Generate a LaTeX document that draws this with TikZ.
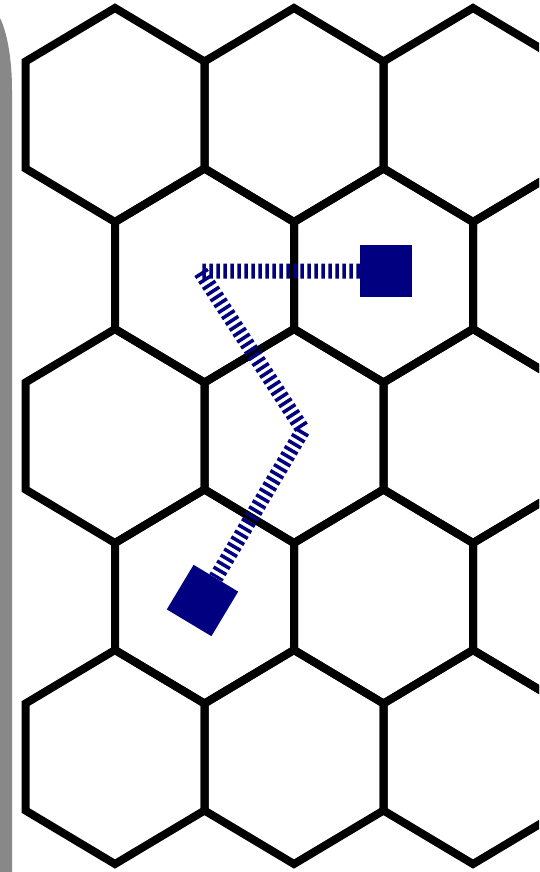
\documentclass[tikz,border=0pt]{standalone}
\definecolor{pathnavy}{RGB}{0,0,128}
\definecolor{bargray}{RGB}{136,136,136}
\begin{document}
\begin{tikzpicture}[x=1pt,y=-1pt,
  hexline/.style={line width=8pt, line join=miter, black},
  endsquare/.style={rectangle, minimum size=52pt, inner sep=0pt, fill=pathnavy, draw=none},
  routeline/.style={line width=15pt, pathnavy, dash pattern=on 3.5pt off 3.5pt, line join=miter}]
\useasboundingbox (0,0) rectangle (539,872);
\fill[white] (0,0) rectangle (539,872);
\begin{scope}
\clip (0,0) rectangle (539,872);
\foreach \cx/\cy in {115/115, 294/115, 473/115,
                     204.5/275.5, 383.5/275.5, 562.5/275.5,
                     115/436, 294/436, 473/436,
                     204.5/596.5, 383.5/596.5, 562.5/596.5,
                     115/757, 294/757, 473/757}
  \draw[hexline] (\cx,\cy-107) -- ++(89.5,53.5) -- ++(0,107) -- ++(-89.5,53.5) -- ++(-89.5,-53.5) -- ++(0,-107) -- cycle;
\end{scope}
\fill[bargray] (0,18) .. controls (6,30) and (12,55) .. (12,90) -- (12,872) -- (0,872) -- cycle;
\node[endsquare] (s1) at (386,271) {};
\node[endsquare, rotate=-31] (s2) at (202.5,600.5) {};
\coordinate (c1) at (200,271);
\coordinate (c2) at (303,430);
\draw[routeline] (s1) -- (c1) -- (c2) -- (s2);
\end{tikzpicture}
\end{document}
